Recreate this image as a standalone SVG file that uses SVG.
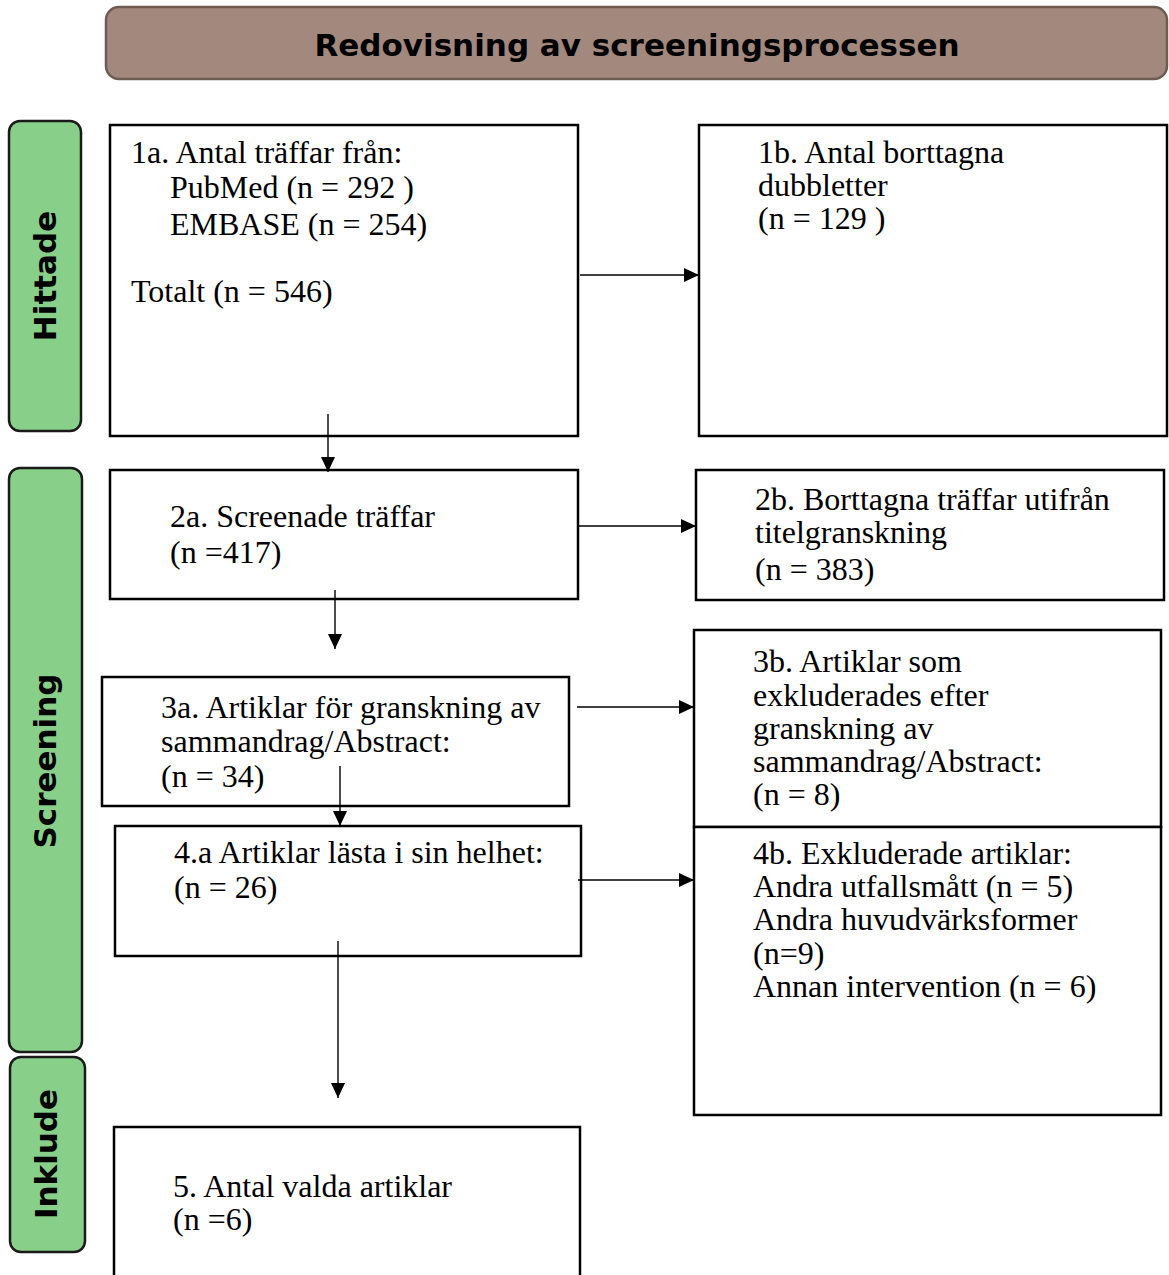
<svg xmlns="http://www.w3.org/2000/svg" width="1169" height="1275" viewBox="0 0 1169 1275">
<defs>
<style>
.box{fill:#fff;stroke:#000;stroke-width:2.5}
.side{fill:#88cf8a;stroke:#1a1a1a;stroke-width:2.5}
.t{font-family:"Liberation Serif","DejaVu Serif",serif;font-size:32px;fill:#000}
.s{font-family:"DejaVu Sans","Verdana",sans-serif;font-weight:bold;font-size:31px;fill:#000}
.c{stroke:#000;stroke-width:1.4;fill:none;marker-end:url(#ah)}
</style>
<marker id="ah" markerUnits="userSpaceOnUse" markerWidth="16" markerHeight="14" refX="15" refY="7" orient="auto">
<path d="M0,0 L15,7 L0,14 Z" fill="#000"/>
</marker>
</defs>
<rect width="1169" height="1275" fill="#fff"/>

<g id="title">
<rect x="106" y="7" width="1061" height="72" rx="13" fill="#a3897d" stroke="#6e5c53" stroke-width="2.5"/>
<text class="s" x="637" y="56" text-anchor="middle" font-size="33.3">Redovisning av screeningsprocessen</text>
</g>

<g id="lane-hittade">
<rect class="side" x="9" y="121" width="72" height="310" rx="11"/>
<text class="s" transform="translate(56,276) rotate(-90)" text-anchor="middle">Hittade</text>
</g>
<g id="lane-screening">
<rect class="side" x="9" y="468" width="73" height="584" rx="11"/>
<text class="s" transform="translate(56,761) rotate(-90)" text-anchor="middle">Screening</text>
</g>
<g id="lane-inklude">
<rect class="side" x="10" y="1057" width="75" height="195" rx="11"/>
<text class="s" transform="translate(57,1154) rotate(-90)" text-anchor="middle" font-size="32">Inklude</text>
</g>

<g id="n1a">
<rect class="box" x="110" y="125" width="468" height="311"/>
<text class="t" x="131" y="163">1a. Antal träffar från:</text>
<text class="t" x="170" y="198">PubMed (n = 292 )</text>
<text class="t" x="170" y="235">EMBASE (n = 254)</text>
<text class="t" x="131" y="302">Totalt (n = 546)</text>
</g>
<g id="n1b">
<rect class="box" x="699" y="125" width="468" height="311"/>
<text class="t" x="758" y="163">1b. Antal borttagna</text>
<text class="t" x="758" y="196">dubbletter</text>
<text class="t" x="758" y="229">(n = 129 )</text>
</g>
<g id="n2a">
<rect class="box" x="110" y="470" width="468" height="129"/>
<text class="t" x="170" y="527">2a. Screenade träffar</text>
<text class="t" x="170" y="563">(n =417)</text>
</g>
<g id="n2b">
<rect class="box" x="696" y="470" width="468" height="130"/>
<text class="t" x="755" y="510">2b. Borttagna träffar utifrån</text>
<text class="t" x="755" y="543">titelgranskning</text>
<text class="t" x="755" y="580">(n = 383)</text>
</g>
<g id="n3a">
<rect class="box" x="102" y="677" width="467" height="129"/>
<text class="t" x="161" y="718">3a. Artiklar för granskning av</text>
<text class="t" x="161" y="752">sammandrag/Abstract:</text>
<text class="t" x="161" y="787">(n = 34)</text>
</g>
<g id="n3b">
<rect class="box" x="694" y="630" width="467" height="197"/>
<text class="t" x="753" y="672">3b. Artiklar som</text>
<text class="t" x="753" y="706">exkluderades efter</text>
<text class="t" x="753" y="739">granskning av</text>
<text class="t" x="753" y="772">sammandrag/Abstract:</text>
<text class="t" x="753" y="805">(n = 8)</text>
</g>
<g id="n4a">
<rect class="box" x="115" y="826" width="466" height="130"/>
<text class="t" x="174" y="863">4.a Artiklar lästa i sin helhet:</text>
<text class="t" x="174" y="898">(n = 26)</text>
</g>
<g id="n4b">
<rect class="box" x="694" y="827" width="467" height="288"/>
<text class="t" x="753" y="864">4b. Exkluderade artiklar:</text>
<text class="t" x="753" y="897">Andra utfallsmått (n = 5)</text>
<text class="t" x="753" y="930">Andra huvudvärksformer</text>
<text class="t" x="753" y="964">(n=9)</text>
<text class="t" x="753" y="997">Annan intervention (n = 6)</text>
</g>
<g id="n5">
<rect class="box" x="114" y="1127" width="466" height="160"/>
<text class="t" x="173" y="1197">5. Antal valda artiklar</text>
<text class="t" x="173" y="1230">(n =6)</text>
</g>

<g id="connectors">
<line class="c" x1="580" y1="275" x2="699" y2="275"/>
<line class="c" x1="328" y1="414" x2="328" y2="472"/>
<line class="c" x1="578" y1="526" x2="696" y2="526"/>
<line class="c" x1="335" y1="590" x2="335" y2="649"/>
<line class="c" x1="577" y1="707" x2="694" y2="707"/>
<line class="c" x1="340" y1="766" x2="340" y2="826"/>
<line class="c" x1="578" y1="880" x2="694" y2="880"/>
<line class="c" x1="338" y1="941" x2="338" y2="1098"/>
</g>
</svg>
